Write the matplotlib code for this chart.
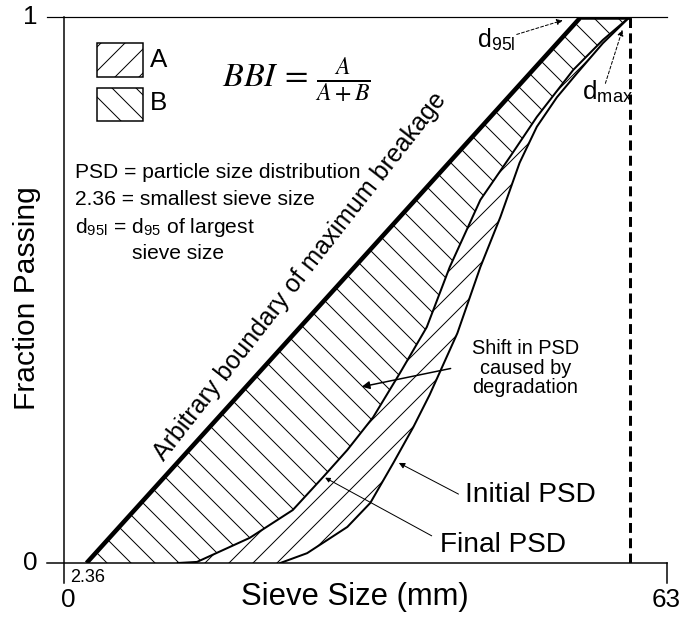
import numpy as np
import matplotlib
matplotlib.use("Agg")
import matplotlib.pyplot as plt
from matplotlib.patches import Rectangle

plt.rcParams['font.family'] = ['Liberation Sans', 'DejaVu Sans']
plt.rcParams['mathtext.fontset'] = 'stix'
plt.rcParams['hatch.linewidth'] = 1.0

# sieve sizes (mm) and fraction passing
x_min_sieve = 2.36
d95l = 54.0
d_max = 59.1
x_max = 63

boundary_x = [x_min_sieve, d95l]
boundary_y = [0.0, 1.0]

final_x = [11.9, 13.9, 19.4, 23.9, 27.1, 29.6, 32.3, 35.1, 37.9, 40.3, 43.5, 46.6, 49.4, 53.2, 56.3, 59.1]
final_y = [0.0, 0.002, 0.046, 0.097, 0.158, 0.207, 0.267, 0.348, 0.432, 0.542, 0.665, 0.744, 0.817, 0.903, 0.958, 1.0]

initial_x = [22.6, 25.4, 29.6, 32.0, 34.4, 36.5, 38.2, 41.1, 43.5, 45.6, 47.6, 49.4, 51.5, 53.6, 56.3, 59.1]
initial_y = [0.0, 0.018, 0.066, 0.110, 0.183, 0.249, 0.308, 0.421, 0.542, 0.634, 0.733, 0.799, 0.853, 0.897, 0.952, 1.0]

fig = plt.figure(figsize=(681 / 72, 619 / 72), dpi=72)
ax = fig.add_axes([64 / 681, 56 / 619, 603 / 681, 546 / 619])
ax.set_xlim(0, x_max)
ax.set_ylim(0, 1)
ax.axis('off')

# region B: between the max breakage boundary and final PSD
bx = np.concatenate([boundary_x, [d_max], final_x[::-1]])
by = np.concatenate([boundary_y, [1.0], final_y[::-1]])
ax.fill(bx, by, facecolor='none', edgecolor='black', linewidth=0, hatch='\\')

# region A: between final and initial PSD
axx = np.concatenate([final_x, initial_x[::-1]])
ayy = np.concatenate([final_y, initial_y[::-1]])
ax.fill(axx, ayy, facecolor='none', edgecolor='black', linewidth=0, hatch='/')

# curves
ax.plot(boundary_x, boundary_y, color='black', lw=4.5, solid_capstyle='butt')
ax.plot([d95l, d_max], [1, 1], color='black', lw=4.5, solid_capstyle='butt')
ax.plot(final_x, final_y, color='black', lw=2)
ax.plot(initial_x, initial_y, color='black', lw=2)
ax.plot([d_max, d_max], [0, 1], color='black', lw=3, dashes=(3.3, 1.8))

# frame lines
tick = 17 / 9.57
ax.plot([-tick, x_max], [0, 0], color='black', lw=1.5, clip_on=False)
ax.plot([-tick, x_max], [1, 1], color='black', lw=1.2, clip_on=False)
ax.plot([0, 0], [-0.037, 1], color='black', lw=1.5, clip_on=False)
ax.plot([x_max, x_max], [-0.037, 0], color='black', lw=1.5, clip_on=False)

# tick labels
ax.text(-3.55, 0, '0', fontsize=26, ha='center', va='center')
ax.text(-3.55, 1, '1', fontsize=26, ha='center', va='center')
ax.text(0.4, -0.068, '0', fontsize=26, ha='center', va='center')
ax.text(62.9, -0.068, '63', fontsize=26, ha='center', va='center')
ax.text(2.5, -0.026, '2.36', fontsize=18, ha='center', va='center')
ax.text(30.4, -0.062, 'Sieve Size (mm)', fontsize=31, ha='center', va='center')
ax.text(-3.87, 0.485, 'Fraction Passing', fontsize=30, ha='center', va='center',
        rotation=90)

# legend boxes
ax.add_patch(Rectangle((3.45, 0.89), 4.8, 0.062, facecolor='white',
                       edgecolor='black', lw=1.5, hatch='/', clip_on=False))
ax.add_patch(Rectangle((3.45, 0.81), 4.8, 0.06, facecolor='white',
                       edgecolor='black', lw=1.5, hatch='\\', clip_on=False))
ax.text(9.0, 0.921, 'A', fontsize=26, va='center')
ax.text(9.0, 0.8425, 'B', fontsize=26, va='center')
ax.text(16.5, 0.885, r'$BBI\,=\,\frac{A}{A+B}$', fontsize=34, va='center')

# notes
notes_x = 1.15
ax.text(notes_x, 0.716, 'PSD = particle size distribution', fontsize=21, va='center')
ax.text(notes_x, 0.665, '2.36 = smallest sieve size', fontsize=21, va='center')
ax.text(notes_x, 0.615, r'd$_{\mathregular{95l}}$ = d$_{\mathregular{95}}$ of largest',
        fontsize=21, va='center')
ax.text(7.1, 0.566, 'sieve size', fontsize=21, va='center')

ax.text(24.7, 0.524, 'Arbitrary boundary of maximum breakage', fontsize=25,
        rotation=52, ha='center', va='center', rotation_mode='anchor')

ax.text(48.2, 0.357, 'Shift in PSD\ncaused by\ndegradation', fontsize=20,
        ha='center', va='center', linespacing=1.05)
ax.text(41.9, 0.1245, 'Initial PSD', fontsize=28, va='center')
ax.text(39.3, 0.033, 'Final PSD', fontsize=28, va='center')

# arrows
ax.annotate('', xy=(30.9, 0.322), xytext=(40.6, 0.357),
            arrowprops=dict(arrowstyle='-|>', color='black', lw=1.5, mutation_scale=16))
ax.annotate('', xy=(34.8, 0.185), xytext=(41.4, 0.1245),
            arrowprops=dict(arrowstyle='-|>', color='black', lw=1.0, mutation_scale=12))
ax.annotate('', xy=(27.1, 0.158), xytext=(38.6, 0.048),
            arrowprops=dict(arrowstyle='-|>', color='black', lw=1.0, mutation_scale=10))

ax.text(45.2, 0.958, r'd$_{\mathregular{95l}}$', fontsize=25, ha='center', va='center')
ax.annotate('', xy=(52.3, 0.995), xytext=(47.1, 0.967),
            arrowprops=dict(arrowstyle='-|>', color='black', lw=1.0,
                            linestyle=(0, (3, 2)), mutation_scale=12))
ax.text(54.1, 0.863, r'd$_{\mathregular{max}}$', fontsize=26, ha='left', va='center')
ax.annotate('', xy=(58.4, 0.98), xytext=(56.5, 0.875),
            arrowprops=dict(arrowstyle='-|>', color='black', lw=1.0,
                            linestyle=(0, (3, 2)), mutation_scale=12))

fig.savefig('out.png', dpi=72, facecolor='white')
